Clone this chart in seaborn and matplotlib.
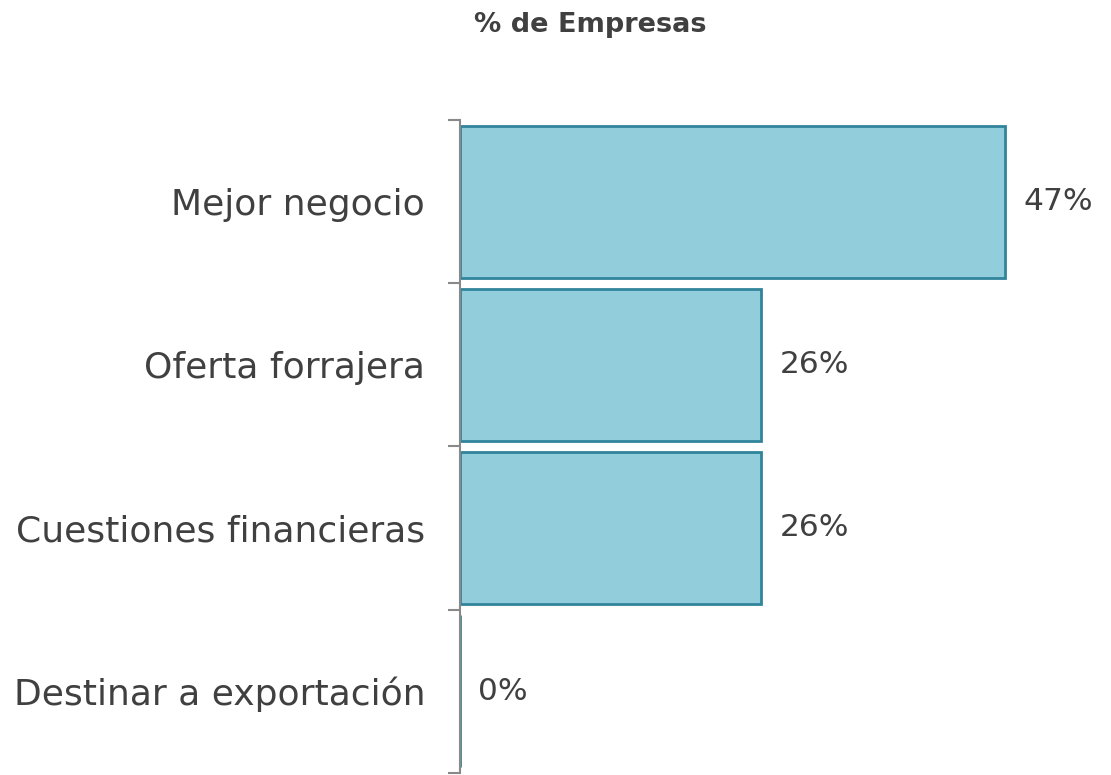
import pandas as pd
import seaborn as sns
import matplotlib.pyplot as plt
from matplotlib.ticker import FixedLocator

categorias = ['Mejor negocio', 'Oferta forrajera', 'Cuestiones financieras', 'Destinar a exportación']
porcentajes = [47, 26, 26, 0]
etiquetas = ['47%', '26%', '26%', '0%']

data = pd.DataFrame({'categoria': categorias, 'pct': porcentajes})

sns.set_theme(style='white')
plt.rcParams['font.family'] = ['DejaVu Sans']

fig = plt.figure(figsize=(11.11, 7.75), dpi=100)
ax = fig.add_axes([0.414, 0.003, 0.574, 0.842])

sns.barplot(data=data, x='pct', y='categoria', orient='h', width=0.93,
            color='#92CDDC', edgecolor='#31849B', linewidth=2, saturation=1, ax=ax)

for p, txt in zip(ax.patches, etiquetas):
    ax.annotate(txt, (p.get_width(), p.get_y() + p.get_height() / 2),
                xytext=(13, 0), textcoords='offset points', va='center', ha='left',
                fontsize=22.5, color='#404040')

ax.set_xlim(0, 55)
ax.set_ylim(3.5, -0.5)
ax.set_xlabel('')
ax.set_ylabel('')
ax.set_xticks([])
ax.tick_params(axis='y', which='major', length=0, labelsize=26, labelcolor='#404040', pad=25)
ax.yaxis.set_minor_locator(FixedLocator([-0.5, 0.5, 1.5, 2.5, 3.5]))
ax.tick_params(axis='y', which='minor', left=True, length=9, width=1.5, color='#898989')

for s in ['top', 'right', 'bottom']:
    ax.spines[s].set_visible(False)
ax.spines['left'].set_color('#898989')
ax.spines['left'].set_linewidth(1.5)

fig.text(0.531, 0.968, '% de Empresas', ha='center', va='center',
         fontsize=19.5, fontweight='bold', color='#404040')

fig.savefig('out.png', dpi=100)
